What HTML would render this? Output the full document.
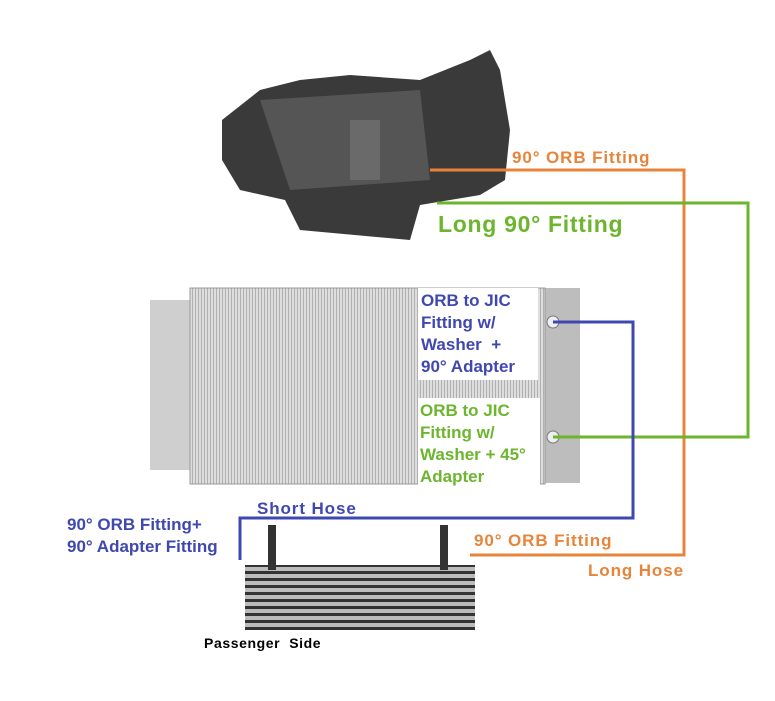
<!DOCTYPE html>
<html><head><style>
body{margin:0;background:#fff;width:775px;height:701px;position:relative;overflow:hidden;font-family:"Liberation Sans",sans-serif;font-weight:bold}
.t{position:absolute;white-space:nowrap;letter-spacing:0.9px}
.b{color:#3f48b0}.o{color:#e8843a}.g{color:#6cb52d}
</style></head><body>
<svg width="775" height="701" style="position:absolute;left:0;top:0">
<defs>
<pattern id="fin" width="3" height="4" patternUnits="userSpaceOnUse"><rect width="3" height="4" fill="#dedede"/><rect width="1" height="4" fill="#b0b0b0"/></pattern>
<pattern id="cool" width="6" height="7" patternUnits="userSpaceOnUse"><rect width="6" height="7" fill="#bbb"/><rect y="4" width="6" height="3" fill="#333"/></pattern>
</defs>
<path d="M222 120 L260 90 L300 80 L350 75 L420 80 L470 60 L490 50 L500 70 L510 130 L505 180 L480 195 L420 205 L410 240 L300 230 L285 200 L240 190 L222 160 Z" fill="#3a3a3a"/>
<path d="M260 100 L420 90 L430 180 L290 190 Z" fill="#555"/>
<rect x="350" y="120" width="30" height="60" fill="#6a6a6a"/>
<rect x="150" y="300" width="40" height="170" fill="#cfcfcf"/>
<rect x="545" y="288" width="35" height="195" fill="#bdbdbd"/>
<rect x="190" y="288" width="355" height="196" fill="url(#fin)" stroke="#999"/>
<rect x="418" y="288" width="120" height="92" fill="#fff"/>
<rect x="418" y="398" width="122" height="87" fill="#fff"/>
<circle cx="553" cy="322" r="6" fill="#eee" stroke="#777"/>
<circle cx="553" cy="437" r="6" fill="#eee" stroke="#777"/>
<rect x="245" y="565" width="230" height="65" fill="url(#cool)"/>
<rect x="268" y="525" width="8" height="45" fill="#333"/>
<rect x="440" y="525" width="8" height="45" fill="#333"/>
<polyline points="430,170 684,170 684,555 470,555" fill="none" stroke="#e8843a" stroke-width="3"/>
<polyline points="437,203 748,203 748,437 553,437" fill="none" stroke="#6cb52d" stroke-width="3"/>
<polyline points="553,322 633,322 633,518 240,518 240,560" fill="none" stroke="#3f48b0" stroke-width="3"/>
</svg>
<div class="t o" style="left:512px;top:148px;font-size:17px">90° ORB Fitting</div>
<div class="t g" style="left:438px;top:211px;font-size:23px;letter-spacing:0.7px">Long 90° Fitting</div>
<div class="t b" style="left:421px;top:290px;font-size:17px;line-height:22px;letter-spacing:0">ORB to JIC<br>Fitting w/<br>Washer &nbsp;+<br>90° Adapter</div>
<div class="t g" style="left:420px;top:400px;font-size:17px;line-height:22px;letter-spacing:0">ORB to JIC<br>Fitting w/<br>Washer + 45°<br>Adapter</div>
<div class="t b" style="left:257px;top:499px;font-size:17px">Short Hose</div>
<div class="t b" style="left:67px;top:514px;font-size:17px;line-height:22px;letter-spacing:0">90° ORB Fitting+<br>90° Adapter Fitting</div>
<div class="t o" style="left:474px;top:531px;font-size:17px">90° ORB Fitting</div>
<div class="t o" style="left:588px;top:561px;font-size:17px">Long Hose</div>
<div class="t" style="left:204px;top:635px;font-size:14px;color:#000;letter-spacing:0.6px">Passenger &nbsp;Side</div>
</body></html>
